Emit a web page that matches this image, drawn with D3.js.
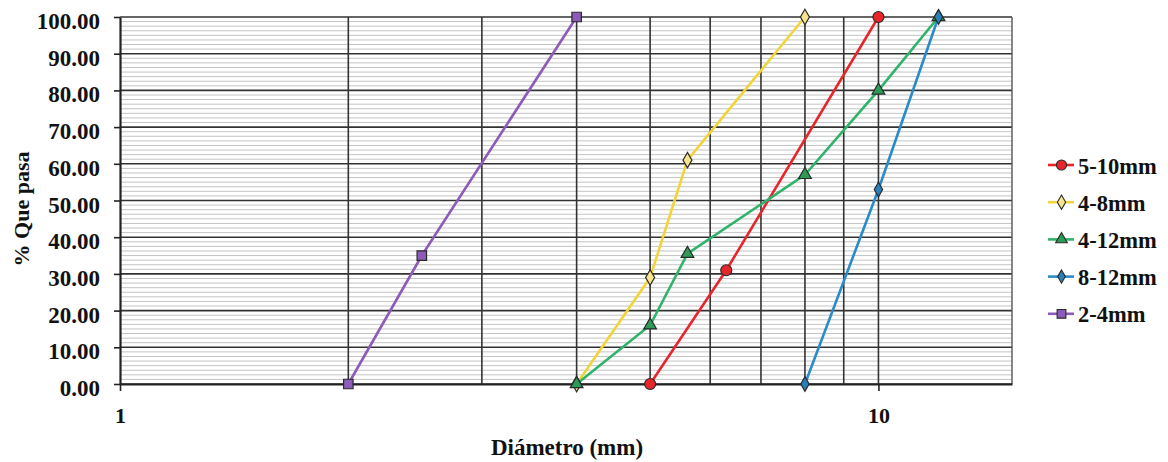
<!DOCTYPE html>
<html>
<head>
<meta charset="utf-8">
<script src="https://cdn.jsdelivr.net/npm/d3@7"></script>
<style>
  html, body { margin: 0; padding: 0; background: #fff; }
  svg { display: block; }
</style>
</head>
<body>
<svg id="chart" width="1168" height="462"></svg>
<script>
// Grading curves: sieve size (mm) vs cumulative % passing
const seriesNames = ["5-10mm", "4-8mm", "4-12mm", "8-12mm", "2-4mm"];
const sizes_5_10 = [5, 6.3, 10];
const pass_5_10 = [0, 31, 100];
const sizes_4_8 = [4, 5, 5.6, 8];
const pass_4_8 = [0, 29, 61, 100];
const sizes_4_12 = [4, 5, 5.6, 8, 10, 12];
const pass_4_12 = [0, 16, 35.5, 57, 80, 100];
const sizes_8_12 = [8, 10, 12];
const pass_8_12 = [0, 53, 100];
const sizes_2_4 = [2, 2.5, 4];
const pass_2_4 = [0, 35, 100];

const yTicks = [0, 10, 20, 30, 40, 50, 60, 70, 80, 90, 100];
const xLabelTicks = [1, 10];
const xGridTicks = [2, 3, 4, 5, 6, 7, 8, 9, 10];

const colors = ["#e8252a", "#f2d43a", "#2fb36a", "#2a8bc9", "#8c5cb8"];
const fills = ["#e8252a", "#f6e58c", "#2e9a57", "#2a7fb8", "#8c5cb8"];
const shapes = [d3.symbolCircle, d3.symbolDiamond, d3.symbolTriangle, d3.symbolDiamond, d3.symbolSquare];
const symSizes = [95, 70, 70, 60, 90];

const FONT = "'Liberation Serif', 'DejaVu Serif', serif";

const series = [
  {x: sizes_5_10, y: pass_5_10},
  {x: sizes_4_8, y: pass_4_8},
  {x: sizes_4_12, y: pass_4_12},
  {x: sizes_8_12, y: pass_8_12},
  {x: sizes_2_4, y: pass_2_4}
].map((s, i) => ({name: seriesNames[i], pts: s.x.map((v, j) => [v, s.y[j]])}));

const svg = d3.select("#chart");
const L = 120, R = 1012, T = 17, B = 384;
const x = d3.scaleLog().domain([1, 15]).range([L, R]);
const y = d3.scaleLinear().domain([0, 100]).range([B, T]);

function styleText(sel, size) {
  sel.attr("font-family", FONT).attr("font-weight", "bold")
    .attr("font-size", size).attr("fill", "#111")
    .style("font-family", FONT).style("font-weight", "bold").style("font-size", size + "px");
}

// minor horizontal grid
const minor = d3.range(0, 100, 1.25).filter(v => v % 10 !== 0);
svg.append("g").selectAll("line").data(minor).join("line")
  .attr("x1", L).attr("x2", R)
  .attr("y1", d => y(d)).attr("y2", d => y(d))
  .attr("stroke", "#c4c4c4").attr("stroke-width", 1);

// major horizontal grid
svg.append("g").selectAll("line").data(yTicks).join("line")
  .attr("x1", L).attr("x2", R)
  .attr("y1", d => y(d)).attr("y2", d => y(d))
  .attr("stroke", "#333").attr("stroke-width", 1.6);

// vertical grid
svg.append("g").selectAll("line").data(xGridTicks).join("line")
  .attr("x1", d => x(d)).attr("x2", d => x(d))
  .attr("y1", T).attr("y2", B)
  .attr("stroke", "#333").attr("stroke-width", 1.6);

// frame right edge
svg.append("line").attr("x1", R).attr("x2", R).attr("y1", T).attr("y2", B)
  .attr("stroke", "#555").attr("stroke-width", 1.4);

// y axis
const yAxis = svg.append("g").attr("transform", `translate(${L},0)`)
  .call(d3.axisLeft(y).tickValues(yTicks).tickSize(6).tickSizeOuter(0).tickPadding(14).tickFormat(d3.format(".2f")));
yAxis.select(".domain").attr("stroke", "#222").attr("stroke-width", 2.2);
yAxis.selectAll(".tick line").attr("stroke", "#222").attr("stroke-width", 1.6);
styleText(yAxis.selectAll("text"), 23);
yAxis.selectAll("text").attr("dy", "0.5em");

// x axis
const xAxis = svg.append("g").attr("transform", `translate(0,${B})`)
  .call(d3.axisBottom(x).tickValues(xLabelTicks).tickSize(7).tickSizeOuter(0).tickPadding(16).tickFormat(d3.format("d")));
xAxis.select(".domain").attr("stroke", "#222").attr("stroke-width", 1.8);
xAxis.selectAll(".tick line").attr("stroke", "#222").attr("stroke-width", 1.6);
styleText(xAxis.selectAll("text"), 22);

// series
const line = d3.line().x(d => x(d[0])).y(d => y(d[1]));
series.forEach((s, i) => {
  svg.append("path").datum(s.pts).attr("d", line)
    .attr("fill", "none").attr("stroke", colors[i]).attr("stroke-width", 2.6);
});
series.forEach((s, i) => {
  svg.append("g").selectAll("path").data(s.pts).join("path")
    .attr("transform", d => `translate(${x(d[0])},${y(d[1])})`)
    .attr("d", d3.symbol().type(shapes[i]).size(symSizes[i]))
    .attr("fill", fills[i]).attr("stroke", "#2a2a2a").attr("stroke-width", 1.2);
});

// axis titles
styleText(svg.append("text").attr("x", 567).attr("y", 455).attr("text-anchor", "middle")
  .text("Diámetro (mm)"), 23);
styleText(svg.append("text").attr("transform", "translate(29,209) rotate(-90)").attr("text-anchor", "middle")
  .text("% Que pasa"), 22);

// legend
const lg = svg.append("g").selectAll("g").data(series).join("g")
  .attr("transform", (d, i) => `translate(1048,${165 + i * 37.2})`);
lg.append("line").attr("x1", 0).attr("x2", 26).attr("y1", 0).attr("y2", 0)
  .attr("stroke", (d, i) => colors[i]).attr("stroke-width", 2.6);
lg.append("path").attr("transform", "translate(13.5,0)")
  .attr("d", (d, i) => d3.symbol().type(shapes[i]).size(symSizes[i] * 0.85)())
  .attr("fill", (d, i) => fills[i]).attr("stroke", "#2a2a2a").attr("stroke-width", 1.1);
styleText(lg.append("text").attr("x", 30).attr("y", 0).attr("dy", "0.38em")
  .text(d => d.name), 22.5);
</script>
</body>
</html>
